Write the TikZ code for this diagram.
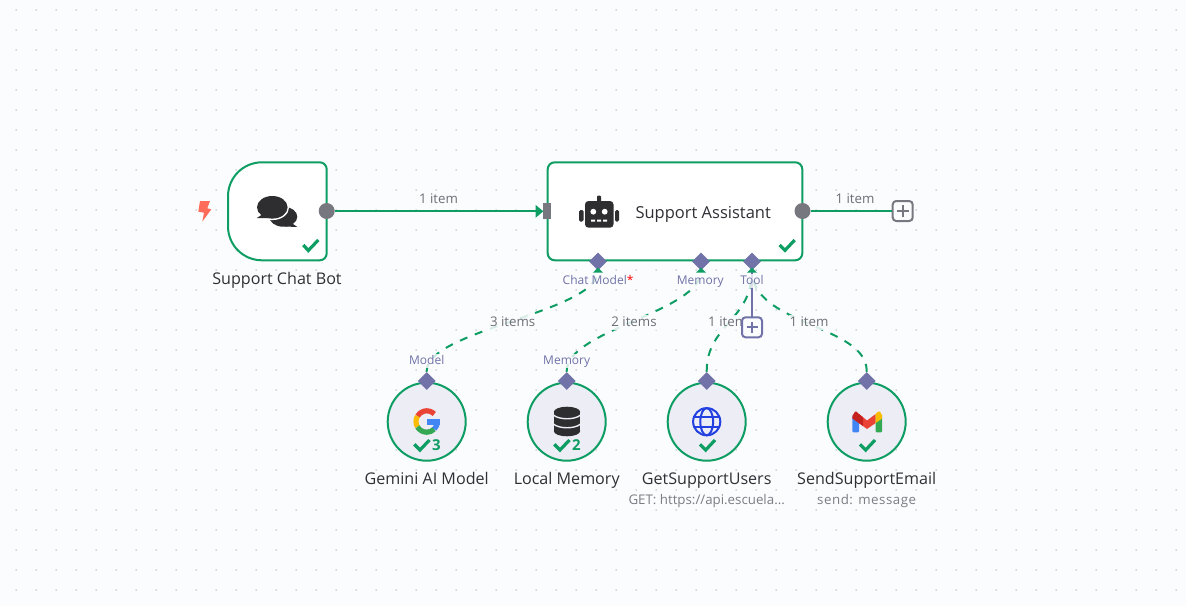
\documentclass[tikz,border=0pt]{standalone}
\usepackage{fontspec}
\setmainfont{Open Sans}
\usetikzlibrary{shapes.geometric}
\definecolor{bgc}{HTML}{FBFCFE}
\definecolor{dotc}{HTML}{C8C9CF}
\definecolor{okc}{HTML}{0E9D63}
\definecolor{portc}{HTML}{77777F}
\definecolor{subc}{HTML}{7072A8}
\definecolor{inkc}{HTML}{2F2F35}
\definecolor{edgec}{HTML}{6E6E76}
\definecolor{nodec}{HTML}{ECEDF5}
\definecolor{iconc}{HTML}{2E2E30}
\definecolor{boltc}{HTML}{FF6D5A}
\definecolor{globec}{HTML}{2340E0}
\definecolor{gred}{HTML}{EA4335}
\definecolor{gdred}{HTML}{C5221F}
\definecolor{gyel}{HTML}{FBBC05}
\definecolor{ggrn}{HTML}{34A853}
\definecolor{gblu}{HTML}{4285F4}
\tikzset{
  x=1pt,y=-1pt,
  circnode/.style={circle,draw=okc,line width=2pt,fill=nodec,minimum size=78pt,inner sep=0pt},
  outport/.style={circle,fill=portc,minimum size=16pt,inner sep=0pt},
  inport/.style={rectangle,fill=portc,minimum width=8pt,minimum height=16pt,inner sep=0pt},
  subport/.style={diamond,fill=subc,minimum size=18pt,inner sep=0pt},
  mainedge/.style={draw=okc,line width=2pt},
  dashedge/.style={draw=okc,line width=2pt,dash pattern=on 8pt off 8pt},
  edgelabel/.style={text=edgec,font=\fontsize{13.3}{16}\selectfont,inner sep=1pt,text height=10pt,text depth=3pt,fill=bgc,fill opacity=.85,text opacity=1},
  portlabel/.style={text=subc,font=\fontsize{12}{14}\selectfont,inner sep=1pt,text height=9pt,text depth=3pt,fill=bgc,fill opacity=.8,text opacity=1},
  title/.style={text=inkc,font=\fontsize{16.1}{18}\selectfont,inner sep=0pt,text height=12pt,text depth=4pt},
  subtitle/.style={text=edgec!90,font=\fontsize{13.3}{15}\selectfont,inner sep=0pt,text height=10pt,text depth=3pt},
  checkm/.style={draw=okc,line width=3.2pt},
  plusbox/.style={rectangle,rounded corners=3.5pt,fill=bgc,line width=2pt,minimum size=20pt,inner sep=0pt},
  plusline/.style={line width=1.8pt},
  tipm/.style={fill=okc},
}
\begin{document}
\begin{tikzpicture}
\useasboundingbox (0,0) rectangle (1186,606);
\fill[bgc] (0,0) rectangle (1186,606);
% dotted canvas
\fill[dotc] foreach \i in {0,...,58} { foreach \j in {0,...,29} {
  (15.5+20*\i,9.2+20*\j) rectangle ++(1,1.6) } };

% main nodes
\draw[okc,line width=2pt,fill=white] (262,162.3) -- (319.7,162.3)
   .. controls (323.6,162.3) and (326.7,165.4) .. (326.7,169.3) -- (326.7,253.3)
   .. controls (326.7,257.2) and (323.6,260.3) .. (319.7,260.3) -- (262,260.3)
   .. controls (243.2,260.3) and (228,245.1) .. (228,226.3) -- (228,196.3)
   .. controls (228,177.5) and (243.2,162.3) .. (262,162.3) -- cycle;
\node[draw=okc,line width=2pt,fill=white,rounded corners=7pt,minimum width=254.6pt,minimum height=98pt,inner sep=0pt] (agent) at (675,211.3) {};

% ports
\node[outport] (trigOut) at (326.7,211) {};
\node[outport] (agentOut) at (802.5,211) {};
\node[inport] (agentIn) at (547,211.3) {};

% main connectors
\fill[okc] (543.3,211.3) -- (535.7,205) -- (535.7,217.7) -- cycle;
\draw[mainedge] (trigOut) -- (536,211);
\node[plusbox,draw=portc] (plusOut) at (902.7,211) {};
\draw[mainedge] (agentOut) -- (plusOut);
\draw[portc,plusline] (896.7,211) -- (908.7,211) (902.7,205) -- (902.7,217);

% circular nodes
\node[circnode] (gem) at (426.7,421.7) {};
\node[circnode] (mem) at (566.7,421.7) {};
\node[circnode] (web) at (706.7,421.7) {};
\node[circnode] (mail) at (866.7,421.7) {};

% sub-ports
\node[subport] (pChat) at (598,261.5) {};
\node[subport] (pMem) at (701,261.5) {};
\node[subport] (pTool) at (752,261.5) {};
\node[subport] (pGem) at (426.7,381) {};
\node[subport] (pLoc) at (566.7,381) {};
\node[subport] (pWeb) at (706.7,381) {};
\node[subport] (pMail) at (866.7,381) {};

% sub connectors
\draw[dashedge] (pGem) -- ++(0,-10) .. controls (426.7,330) and (598,312) .. (pChat);
\draw[dashedge] (pLoc) -- ++(0,-10) .. controls (566.7,330) and (701,312) .. (pMem);
\draw[dashedge] (pWeb) -- ++(0,-10) .. controls (706.7,325) and (752,320) .. (pTool);
\draw[dashedge] (pMail) -- ++(0,-10) .. controls (866.7,325) and (752,325) .. (pTool);
\draw[subc,line width=2pt] (pTool) -- (752,317);
\fill[tipm] (598,267.5) -- (603,272.7) -- (593,272.7) -- cycle;
\fill[tipm] (701,267.5) -- (706,272.7) -- (696,272.7) -- cycle;
\fill[tipm] (752,267.5) -- (757,272.7) -- (747,272.7) -- cycle;

% port and edge labels
\node[portlabel,anchor=west] (lChat) at (561.5,281) {Chat Model\textcolor{red}{*}};
\node[portlabel] (lMem) at (700.3,281) {Memory};
\node[portlabel] (lTool) at (752,281) {Tool};
\node[portlabel] (lModel) at (426.7,361) {Model};
\node[portlabel] (lLoc) at (566.7,361) {Memory};
\node[edgelabel,fill opacity=0] (e1) at (438.5,199.5) {1 item};
\node[edgelabel,fill opacity=0] (e2) at (855,199.5) {1 item};
\node[edgelabel] (e3) at (512.7,322.5) {3 items};
\node[edgelabel] (e4) at (634,322.5) {2 items};
\node[edgelabel] (e5) at (727.7,322.5) {1 item};
\node[edgelabel] (e6) at (809,322.5) {1 item};
\node[plusbox,draw=subc] (plusTool) at (752,327.3) {};
\draw[subc,plusline] (746.5,327.3) -- (757.5,327.3) (752,321.8) -- (752,332.8);

% titles
\node[title] (t1) at (277,280.5) {Support Chat Bot};
\node[title,anchor=west] (t2) at (635.3,214.5) {\fontsize{16.5}{18}\selectfont Support Assistant};
\node[title] (t3) at (426.7,480.5) {Gemini AI Model};
\node[title] (t4) at (566.7,480.5) {Local Memory};
\node[title] (t5) at (706.7,480.5) {GetSupportUsers};
\node[title] (t6) at (866.7,480.5) {SendSupportEmail};
\node[subtitle] (s5) at (706.7,500.5) {GET: https://api.escuela...};
\node[subtitle] (s6) at (866.7,500.5) {\addfontfeature{LetterSpace=4}send: message};

% status checks
\draw[checkm] (303.3,245) -- (308.3,250.5) -- (318.3,240);
\draw[checkm] (779.7,245) -- (785,250.3) -- (794.7,240);
\draw[checkm] (414.3,444.3) -- (420,450) -- (429.5,440);
\draw[checkm] (554.3,444.3) -- (560,450) -- (569.5,440);
\draw[checkm] (700,444.3) -- (705.7,450) -- (715,440);
\draw[checkm] (860,444.3) -- (865.7,450) -- (875,440);
\node[text=okc,font=\fontsize{15}{16}\selectfont\bfseries,inner sep=0pt] (n3) at (436.3,445.5) {3};
\node[text=okc,font=\fontsize{15}{16}\selectfont\bfseries,inner sep=0pt] (n2) at (576.3,445.5) {2};

% bolt
\fill[boltc] (200,201) -- (210,201) -- (207.3,208.3) -- (211.3,209.3) -- (202.3,221.7) -- (204,212.7) -- (198.3,211.7) -- cycle;

% chat icon
\fill[iconc] (283.3,216.7) ellipse[x radius=14,y radius=10];
\fill[iconc] (290,222) -- (297.5,227) -- (285,226.5) -- cycle;
\fill[white] (272.3,207.3) ellipse[x radius=16.8,y radius=12.8];
\fill[iconc] (272.3,207.3) ellipse[x radius=15.3,y radius=11.3];
\fill[iconc] (263,214) -- (256.8,218) -- (268,218) -- cycle;

% robot icon
\fill[iconc,rounded corners=1pt] (597,195.7) rectangle (601,203);
\fill[iconc,rounded corners=3.5pt] (585,201) rectangle (613.5,227.7);
\fill[iconc,rounded corners=1.5pt] (579,210) rectangle (583.5,221.7);
\fill[iconc,rounded corners=1.5pt] (615,210) rectangle (619,221.7);
\fill[white] (593.3,211.7) circle[radius=2.9] (604.7,211.7) circle[radius=2.9];
\fill[white] (591,219.6) rectangle ++(4,2) (597,219.6) rectangle ++(4,2) (603,219.6) rectangle ++(4,2);

% google icon
\begin{scope}[shift={(426.7,421.5)},y=1pt]
  \draw[gred,line width=5.2pt] (45:10.7) arc[start angle=45,end angle=150,radius=10.7];
  \draw[gyel,line width=5.2pt] (150:10.7) arc[start angle=150,end angle=210,radius=10.7];
  \draw[ggrn,line width=5.2pt] (210:10.7) arc[start angle=210,end angle=315,radius=10.7];
  \draw[gblu,line width=5.2pt] (315:10.7) arc[start angle=315,end angle=360,radius=10.7];
  \fill[gblu] (0,2.2) rectangle (13.4,-3);
\end{scope}

% database icon
\begin{scope}[shift={(567,421.5)}]
  \fill[iconc] (-13.2,-9.5) rectangle (13.2,9.5);
  \fill[iconc] (0,-9.5) ellipse[x radius=13.2,y radius=5.3];
  \fill[iconc] (0,9.5) ellipse[x radius=13.2,y radius=5.3];
  \draw[nodec,line width=1.4pt] (-13.6,-6.5) .. controls (-8,-1.5) and (8,-1.5) .. (13.6,-6.5);
  \draw[nodec,line width=1.4pt] (-13.6,2.5) .. controls (-8,7.5) and (8,7.5) .. (13.6,2.5);
\end{scope}

% globe icon
\begin{scope}[shift={(706.7,421.7)}]
  \draw[globec,line width=2pt] (0,0) circle[radius=13.6];
  \draw[globec,line width=2pt] (0,0) ellipse[x radius=6.4,y radius=13.6];
  \draw[globec,line width=2pt] (-12.5,-4.8) -- (12.5,-4.8) (-12.5,4.8) -- (12.5,4.8);
\end{scope}

% gmail icon
\fill[gblu,rounded corners=1pt] (852.3,416) rectangle (859,432.3);
\fill[ggrn,rounded corners=1pt] (875.7,416) rectangle (882,432.3);
\fill[gred] (859,414) -- (867,420.5) -- (875.7,414) -- (875.7,423) -- (867,429) -- (859,423) -- cycle;
\fill[gdred] (852.3,416) -- (855,411.7) -- (856.5,411.7) -- (859,414) -- (863,417.3) -- (863,426) -- (852.3,418.5) -- cycle;
\fill[gyel] (875.7,414) -- (878,411.7) -- (880,411.7) -- (882,415) -- (882,418.5) -- (875.7,423) -- cycle;
\end{tikzpicture}
\end{document}
